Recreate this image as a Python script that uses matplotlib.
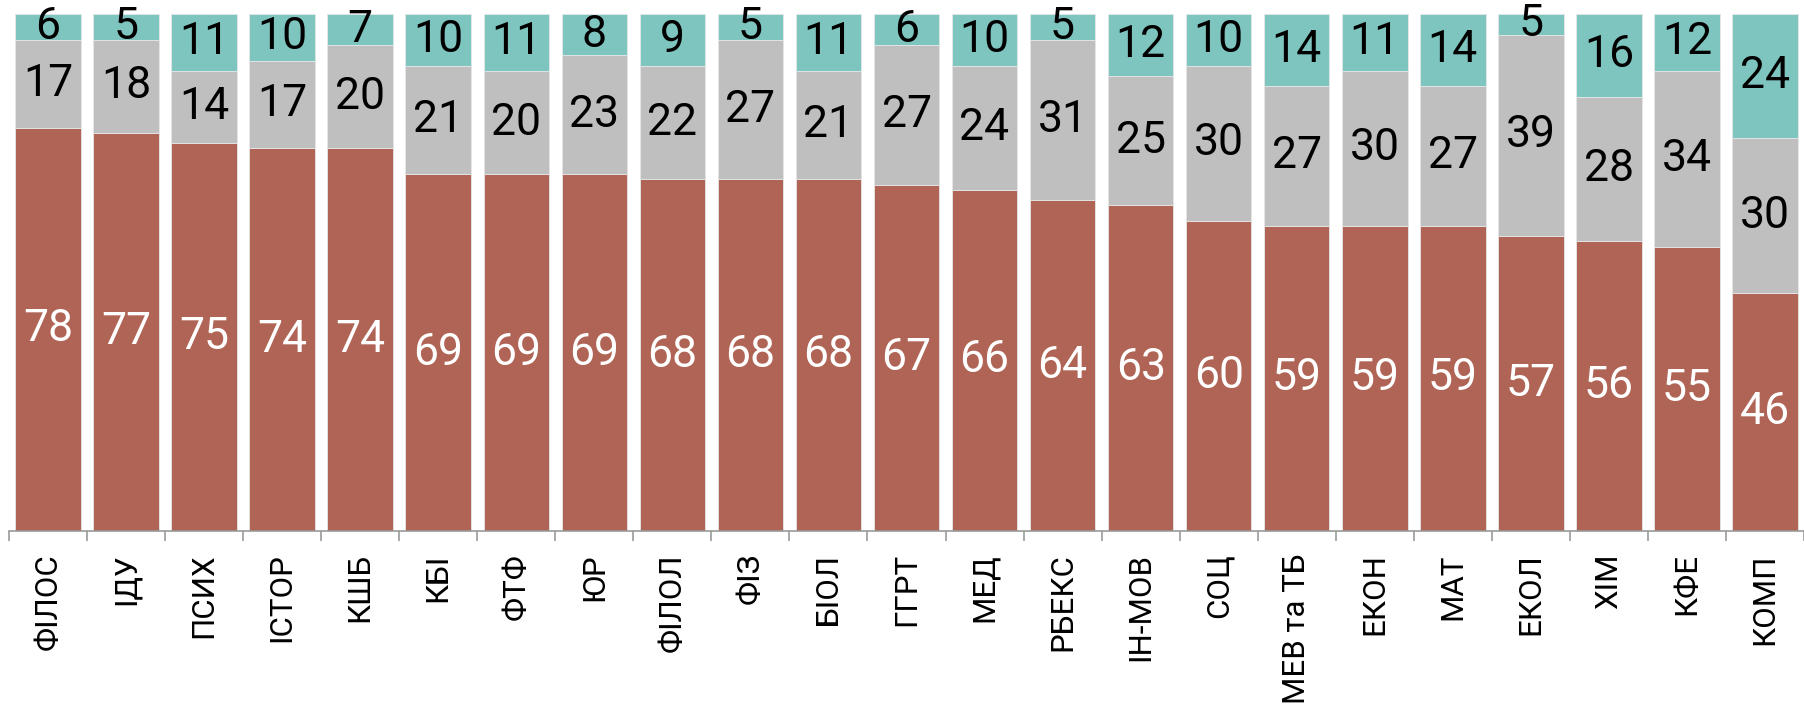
"""Stacked 100% bars by faculty — three answer groups, labels inside segments."""
import numpy as np
import matplotlib
matplotlib.use("Agg")
import matplotlib.pyplot as plt

plt.rcParams["font.family"] = ["Roboto", "DejaVu Sans"]

faculties = ["ФІЛОС", "ІДУ", "ПСИХ", "ІСТОР", "КШБ", "КБІ", "ФТФ", "ЮР", "ФІЛОЛ",
             "ФІЗ", "БІОЛ", "ГГРТ", "МЕД", "РБЕКС", "ІН-МОВ", "СОЦ", "МЕВ та ТБ",
             "ЕКОН", "МАТ", "ЕКОЛ", "ХІМ", "КФЕ", "КОМП"]
low = [78, 77, 75, 74, 74, 69, 69, 69, 68, 68, 68, 67, 66, 64, 63, 60, 59, 59, 59, 57, 56, 55, 46]
mid = [17, 18, 14, 17, 20, 21, 20, 23, 22, 27, 21, 27, 24, 31, 25, 30, 27, 30, 27, 39, 28, 34, 30]
high = [6, 5, 11, 10, 7, 10, 11, 8, 9, 5, 11, 6, 10, 5, 12, 10, 14, 11, 14, 5, 16, 12, 24]

RED, GREY, TEAL = "#b06455", "#bfbfbf", "#7ec4bf"

W, H = 1804, 704
fig = plt.figure(figsize=(W / 100, H / 100), dpi=100)
ax = fig.add_axes([9 / W, 173 / H, 1795 / W, 517 / H])

x = np.arange(len(faculties))
lo = np.array(low, float)
md = np.array(mid, float)
rest = 100 - lo - md          # rounded shares: top segment fills the bar to 100 %
segs = [(lo, low, RED, "white"), (md, mid, GREY, "black"), (rest, high, TEAL, "black")]
bottom = np.zeros(len(faculties))
for vals, lbls, col, tc in segs:
    ax.bar(x, vals, bottom=bottom, width=0.84, color=col,
           edgecolor="#e6e6e6", linewidth=0.6)
    for xi, b, v, l in zip(x, bottom, vals, lbls):
        ax.text(xi, b + v / 2, f"{l}", ha="center", va="center",
                fontsize=32, color=tc, clip_on=False)
    bottom += vals

ax.set_xlim(-0.5, 22.4)
ax.set_ylim(0, 100)
for s in ["top", "right", "left"]:
    ax.spines[s].set_visible(False)
ax.spines["bottom"].set_color("#999999")
ax.spines["bottom"].set_linewidth(1.2)
ax.set_yticks([])
# ticks at slot boundaries, labels at bar centres
ax.set_xticks(np.arange(len(faculties) + 1) - 0.5)
ax.set_xticklabels([])
ax.tick_params(axis="x", which="major", length=7.5, width=1.2, color="#999999")
ax.set_xticks(x, minor=True)
ax.set_xticklabels(faculties, minor=True, rotation=90, fontsize=22.5, va="top")
ax.tick_params(axis="x", which="minor", length=0, pad=16)

fig.savefig("out.png", dpi=100)
